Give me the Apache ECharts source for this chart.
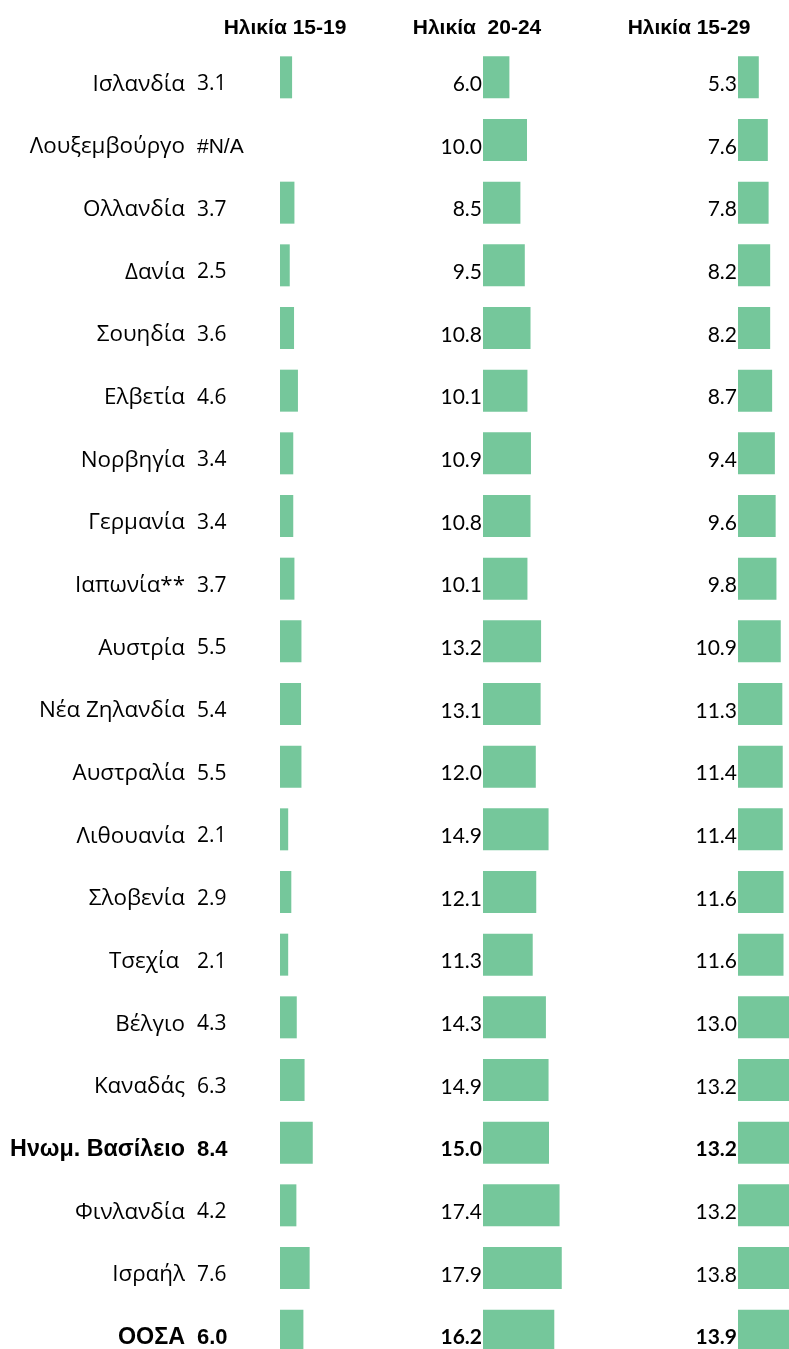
<!DOCTYPE html>
<html>
<head>
<meta charset="utf-8">
<script src="https://cdn.jsdelivr.net/npm/echarts@6/dist/echarts.min.js"></script>
<style>
  html, body { margin: 0; padding: 0; background: #fff; }
  #chart { width: 789px; height: 1349px; }
</style>
</head>
<body>
<div id="chart"></div>
<script>
  // χώρες / γραμμές του πίνακα
  var countries = ['Ισλανδία', 'Λουξεμβούργο', 'Ολλανδία', 'Δανία', 'Σουηδία', 'Ελβετία', 'Νορβηγία',
    'Γερμανία', 'Ιαπωνία**', 'Αυστρία', 'Νέα Ζηλανδία', 'Αυστραλία', 'Λιθουανία', 'Σλοβενία',
    'Τσεχία ', 'Βέλγιο', 'Καναδάς', 'Ηνωμ. Βασίλειο', 'Φινλανδία', 'Ισραήλ', 'ΟΟΣΑ'];
  var age1519 = [3.1, null, 3.7, 2.5, 3.6, 4.6, 3.4, 3.4, 3.7, 5.5, 5.4, 5.5, 2.1, 2.9, 2.1, 4.3, 6.3, 8.4, 4.2, 7.6, 6.0];
  var age2024 = [6.0, 10.0, 8.5, 9.5, 10.8, 10.1, 10.9, 10.8, 10.1, 13.2, 13.1, 12.0, 14.9, 12.1, 11.3, 14.3, 14.9, 15.0, 17.4, 17.9, 16.2];
  var age1529 = [5.3, 7.6, 7.8, 8.2, 8.2, 8.7, 9.4, 9.6, 9.8, 10.9, 11.3, 11.4, 11.4, 11.6, 11.6, 13.0, 13.2, 13.2, 13.2, 13.8, 13.9];
  var headers = ['Ηλικία 15-19', 'Ηλικία  20-24', 'Ηλικία 15-29'];
  var boldRows = ['Ηνωμ. Βασίλειο', 'ΟΟΣΑ'];

  var green = '#75c79b';
  var top0 = 46, h0 = 1316;
  // τα κείμενα κάθονται λίγο πιο χαμηλά από το κέντρο της μπάρας
  var shift = 14;

  function isBold(i) {
    return boldRows.indexOf(countries[i]) >= 0;
  }

  // δεδομένα με έντονη ετικέτα για ΗΒ και ΟΟΣΑ
  function items(arr) {
    return arr.map(function (v, i) {
      return {
        value: v,
        label: { fontWeight: isBold(i) ? 'bold' : 'normal' }
      };
    });
  }

  var mychart = echarts.init(document.getElementById('chart'));

  var yBase = {
    type: 'category',
    data: countries,
    inverse: true,
    axisLine: { show: false },
    axisTick: { show: false },
    splitLine: { show: false }
  };
  var xBase = {
    type: 'value',
    min: 0,
    show: false,
    splitLine: { show: false }
  };
  var valLabel = {
    show: true,
    position: 'left',
    distance: 1,
    offset: [0, shift / 2],
    color: '#000',
    fontFamily: 'Lato',
    fontSize: 21,
    formatter: function (p) { return p.value.toFixed(1); }
  };
  var g = { top: top0, height: h0, outerBoundsMode: 'none', containLabel: false };
  var pad = [shift, 0, 0, 0];

  mychart.setOption({
    animation: false,
    title: headers.map(function (t, i) {
      return {
        text: t,
        left: [280, 472, 684][i],
        top: 13,
        textAlign: 'center',
        textStyle: { fontFamily: 'Liberation Sans', fontWeight: 'bold', fontSize: 21, color: '#000' }
      };
    }),
    grid: [
      Object.assign({ left: 280, width: 39 }, g),
      Object.assign({ left: 483, width: 88 }, g),
      Object.assign({ left: 738, width: 51 }, g),
      // grid βοηθητικό μόνο για τις τιμές 15-19
      Object.assign({ left: 100, width: 96 }, g)
    ],
    xAxis: [
      Object.assign({}, xBase, { gridIndex: 0, max: 10 }),
      Object.assign({}, xBase, { gridIndex: 1, max: 20 }),
      Object.assign({}, xBase, { gridIndex: 2, max: 13 }),
      Object.assign({}, xBase, { gridIndex: 3, max: 10 })
    ],
    yAxis: [
      Object.assign({}, yBase, {
        gridIndex: 0,
        axisLabel: {
          margin: 95,
          interval: 0,
          formatter: function (name, idx) {
            return isBold(idx) ? '{b|' + name + '}' : '{n|' + name + '}';
          },
          rich: {
            n: { fontFamily: 'Open Sans', fontSize: 22.4, color: '#000', padding: pad },
            b: { fontFamily: 'Liberation Sans', fontWeight: 'bold', fontSize: 23.3, color: '#000', padding: pad }
          }
        }
      }),
      Object.assign({}, yBase, { gridIndex: 1, axisLabel: { show: false } }),
      Object.assign({}, yBase, { gridIndex: 2, axisLabel: { show: false } }),
      Object.assign({}, yBase, {
        gridIndex: 3,
        position: 'right',
        axisLabel: {
          margin: 1,
          interval: 0,
          formatter: function (name, idx) {
            var v = age1519[idx];
            if (v == null) return '{a|#N/A}';
            return isBold(idx) ? '{b|' + v.toFixed(1) + '}' : '{n|' + v.toFixed(1) + '}';
          },
          rich: {
            n: { fontFamily: 'Open Sans', fontSize: 21, color: '#000', padding: pad },
            a: { fontFamily: 'Liberation Sans', fontSize: 21, color: '#000', padding: pad },
            b: { fontFamily: 'Liberation Sans', fontWeight: 'bold', fontSize: 22, color: '#000', padding: pad }
          }
        }
      })
    ],
    series: [
      {
        type: 'bar', xAxisIndex: 0, yAxisIndex: 0,
        data: age1519, barCategoryGap: '33%',
        itemStyle: { color: green }
      },
      {
        type: 'bar', xAxisIndex: 1, yAxisIndex: 1,
        data: items(age2024), barCategoryGap: '33%',
        itemStyle: { color: green }, label: valLabel
      },
      {
        type: 'bar', xAxisIndex: 2, yAxisIndex: 2,
        data: items(age1529), barCategoryGap: '33%',
        itemStyle: { color: green }, label: valLabel
      }
    ]
  });
</script>
</body>
</html>
